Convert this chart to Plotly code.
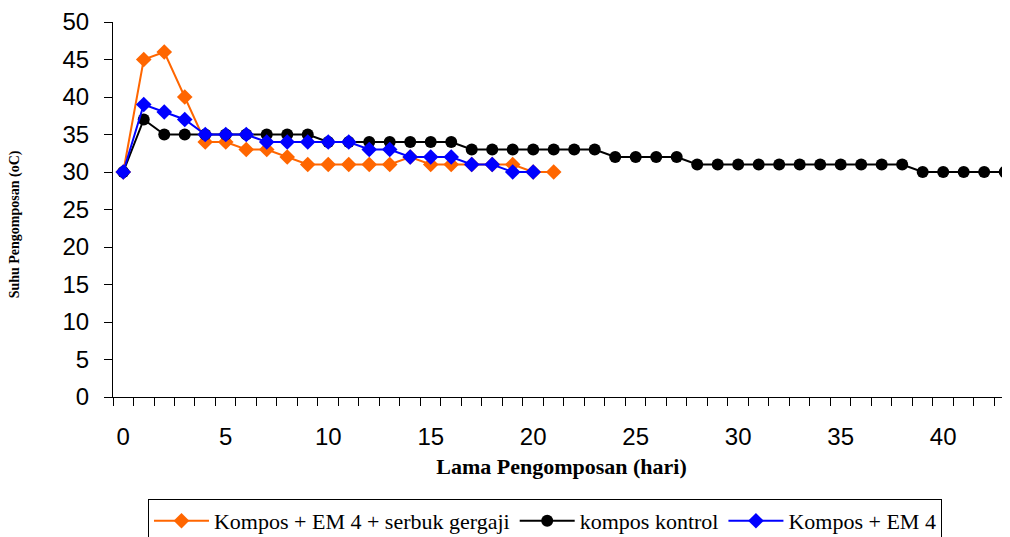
import plotly.graph_objects as go

# Data
days_serbuk = list(range(0, 22))
suhu_serbuk = [30, 45, 46, 40, 34, 34, 33, 33, 32, 31, 31, 31, 31, 31, 32, 31, 31, 31, 31, 31, 30, 30]

days_kontrol = list(range(0, 44))
suhu_kontrol = [30, 37, 35, 35, 35, 35, 35, 35, 35, 35, 34, 34, 34, 34, 34, 34, 34,
                33, 33, 33, 33, 33, 33, 33, 32, 32, 32, 32,
                31, 31, 31, 31, 31, 31, 31, 31, 31, 31, 31,
                30, 30, 30, 30, 30]

days_em4 = list(range(0, 21))
suhu_em4 = [30, 39, 38, 37, 35, 35, 35, 34, 34, 34, 34, 34, 33, 33, 32, 32, 32, 31, 31, 30, 30]

x_tick_vals = [0, 5, 10, 15, 20, 25, 30, 35, 40]
y_tick_vals = [0, 5, 10, 15, 20, 25, 30, 35, 40, 45, 50]

names = ["Kompos + EM 4 + serbuk gergaji", "kompos kontrol", "Kompos + EM 4"]
colors = ["#FF6600", "#000000", "#0000FF"]

fig = go.Figure()
fig.add_trace(go.Scatter(
    x=days_serbuk, y=suhu_serbuk, mode="lines+markers", name=names[0],
    line=dict(color=colors[0], width=2),
    marker=dict(symbol="diamond", size=12, color=colors[0])))
fig.add_trace(go.Scatter(
    x=days_kontrol, y=suhu_kontrol, mode="lines+markers", name=names[1],
    line=dict(color=colors[1], width=2),
    marker=dict(symbol="circle", size=12, color=colors[1])))
fig.add_trace(go.Scatter(
    x=days_em4, y=suhu_em4, mode="lines+markers", name=names[2],
    line=dict(color=colors[2], width=2),
    marker=dict(symbol="diamond", size=12, color=colors[2])))

# The page body has an 8px margin, so the figure is drawn 8px in from the top-left
fig.update_layout(
    width=1002, height=529,
    margin=dict(l=105, r=0, t=14, b=140, autoexpand=False),
    paper_bgcolor="white", plot_bgcolor="white",
    font=dict(family="Arial, Liberation Sans", color="black"),
    showlegend=True,
    legend=dict(
        orientation="h", x=0.039, xanchor="left", y=-0.272, yanchor="top",
        font=dict(family="Liberation Serif, Times New Roman", size=22, color="black"),
        bordercolor="black", borderwidth=1, bgcolor="white",
        itemwidth=55, tracegroupgap=0,
    ),
    xaxis=dict(
        range=[-0.5, 43.26], tickmode="array", tickvals=x_tick_vals,
        ticks="", ticklabelstandoff=18, automargin=False,
        tickfont=dict(family="Arial, Liberation Sans", size=24, color="black"),
        showline=True, linecolor="black", linewidth=1,
        showgrid=False, zeroline=False,
        minor=dict(ticks="outside", ticklen=8, tick0=-0.5, dtick=1,
                   tickcolor="black", tickwidth=1, showgrid=False),
        title=dict(text="<b>Lama Pengomposan (hari)</b>", standoff=9,
                   font=dict(family="Liberation Serif, Times New Roman", size=22, color="black")),
    ),
    yaxis=dict(
        range=[0, 50], tickmode="array", tickvals=y_tick_vals,
        ticks="outside", ticklen=8, tickcolor="black", ticklabelstandoff=10,
        automargin=False,
        tickfont=dict(family="Arial, Liberation Sans", size=24, color="black"),
        showline=True, linecolor="black", linewidth=1,
        showgrid=False, zeroline=False,
    ),
    annotations=[dict(
        text="<b>Suhu Pengomposan (oC)</b>", textangle=-90,
        xref="paper", yref="paper", x=-0.109, y=0.461,
        xanchor="center", yanchor="middle", showarrow=False,
        font=dict(family="Liberation Serif, Times New Roman", size=14, color="black"),
    )],
)

fig.write_html("out.html")
